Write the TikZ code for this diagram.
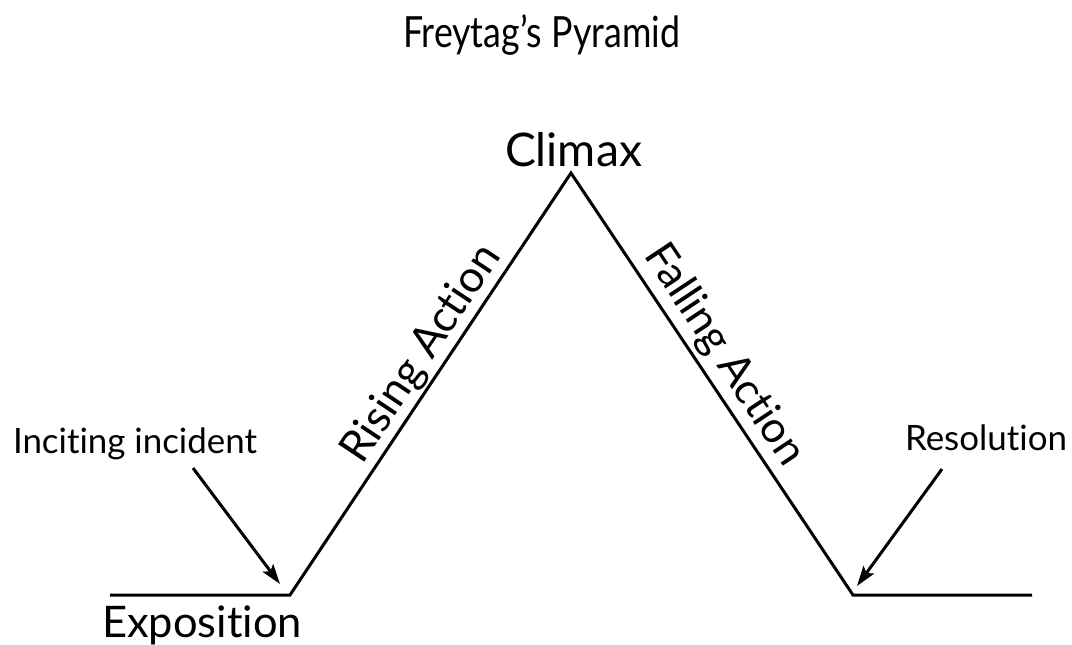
\documentclass[tikz,border=0pt]{standalone}
\usepackage{fontspec}
\setmainfont{Lato}[Ligatures=NoCommon]
\usetikzlibrary{arrows.meta}
\newcommand{\fitw}[2]{\resizebox{#1}{!}{#2}}
\newcommand{\squeeze}[3]{{\fontsize{#2}{#2}\selectfont\resizebox{#1}{\height}{#3}}}
\tikzset{
  lbl/.style={inner sep=0pt, outer sep=0pt, text=black},
  pyr/.style={line width=3pt, line join=miter, black},
  arr/.style={line width=3pt, black, -{Stealth[length=20pt,width=13pt,inset=4pt]}}
}
\begin{document}
\begin{tikzpicture}[x=1pt,y=-1pt]
\useasboundingbox (0,0) rectangle (1072,645);
% pyramid
\coordinate (e1) at (110,595);
\coordinate (v1) at (290,595);
\coordinate (apex) at (571,173);
\coordinate (v2) at (853,595);
\coordinate (e2) at (1032,595);
\draw[pyr] (e1) -- (v1) -- (apex) -- (v2) -- (e2);
% labels
\node[lbl, anchor=base west] (title) at (403,48) {\squeeze{277pt}{43pt}{Freytag’s Pyramid}};
\node[lbl, anchor=base west] (climax) at (505,166) {\fitw{137pt}{Climax}};
\node[lbl, anchor=base west] (expo) at (102,637) {\fitw{200pt}{Exposition}};
\node[lbl, anchor=base west] (incite) at (13,453) {\fitw{244pt}{Inciting incident}};
\node[lbl, anchor=base west] (resol) at (905,450) {\fitw{162pt}{Resolution}};
\node[lbl, anchor=base, rotate=56.3] (rising) at (432,361) {\fitw{252pt}{Rising Action}};
\node[lbl, anchor=base, rotate=-56.4] (falling) at (714,362) {\fitw{255pt}{Falling Action}};
% arrows
\coordinate (a1s) at (193,468);
\coordinate (a1e) at (280,584);
\coordinate (a2s) at (942,469);
\coordinate (a2e) at (857,586);
\draw[arr] (a1s) -- (a1e);
\draw[arr] (a2s) -- (a2e);
\end{tikzpicture}
\end{document}
